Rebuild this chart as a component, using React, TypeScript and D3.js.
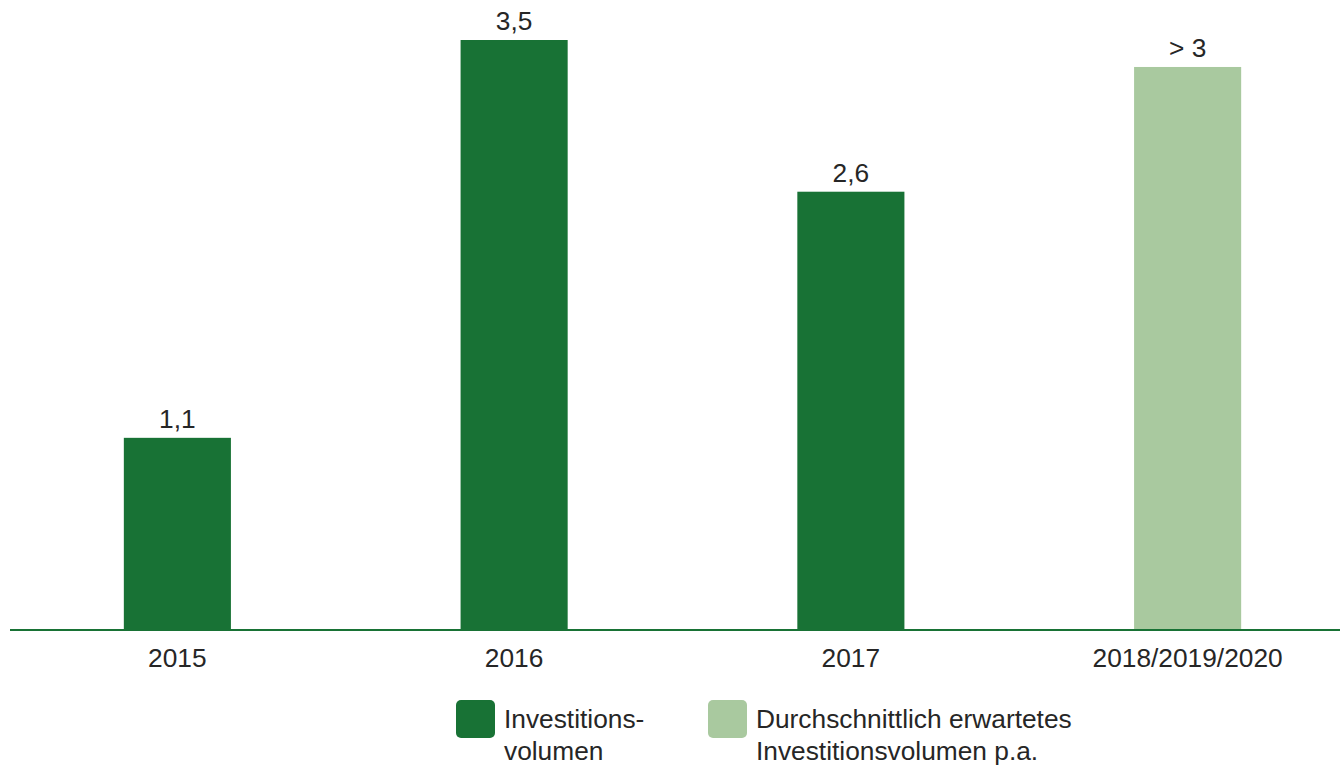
import React from "react";
import * as d3 from "d3";

const categories = ["2015", "2016", "2017", "2018/2019/2020"];
const values = [1.14, 3.5, 2.6, 3.34];
const valueLabels = ["1,1", "3,5", "2,6", "> 3"];
const seriesKind = [0, 0, 0, 1];
const legendItems = [
  ["Investitions-", "volumen"],
  ["Durchschnittlich erwartetes", "Investitionsvolumen p.a."],
];
const colors = ["#187235", "#a9c99f"];

const W = 1340;
const H = 765;
const baseY = 630;
const font = "'Liberation Sans', Arial, sans-serif";
const fs = 26.3;

export default function App() {
  const x = d3
    .scaleBand<string>()
    .domain(categories)
    .range([9, 1356])
    .paddingInner(0.682)
    .paddingOuter(0.341);
  const y = d3.scaleLinear().domain([0, 3.5]).range([baseY, 40]);

  const legendX = [456, 708];
  return (
    <div style={{ position: "absolute", left: 0, top: 0 }}>
      <svg width={W} height={H} style={{ display: "block", background: "#fff" }}>
        {categories.map((c, i) => (
          <g key={c}>
            <rect
              x={x(c)}
              y={y(values[i])}
              width={x.bandwidth()}
              height={baseY - y(values[i])}
              fill={colors[seriesKind[i]]}
            />
            <text
              x={(x(c) as number) + x.bandwidth() / 2}
              y={y(values[i]) - 10}
              textAnchor="middle"
              fontFamily={font}
              fontSize={fs}
              fill="#262626"
            >
              {valueLabels[i]}
            </text>
            <text
              x={(x(c) as number) + x.bandwidth() / 2}
              y={baseY + 37}
              textAnchor="middle"
              fontFamily={font}
              fontSize={fs}
              fill="#262626"
            >
              {c}
            </text>
          </g>
        ))}
        <line x1={10} x2={W} y1={baseY} y2={baseY} stroke="#187235" strokeWidth={2} />
        {legendItems.map((lines, i) => (
          <g key={i}>
            <rect x={legendX[i]} y={700} width={39} height={38} rx={5} fill={colors[i]} />
            {lines.map((t, j) => (
              <text
                key={j}
                x={legendX[i] + 48}
                y={728 + j * 32}
                fontFamily={font}
                fontSize={fs}
                fill="#262626"
              >
                {t}
              </text>
            ))}
          </g>
        ))}
      </svg>
    </div>
  );
}
